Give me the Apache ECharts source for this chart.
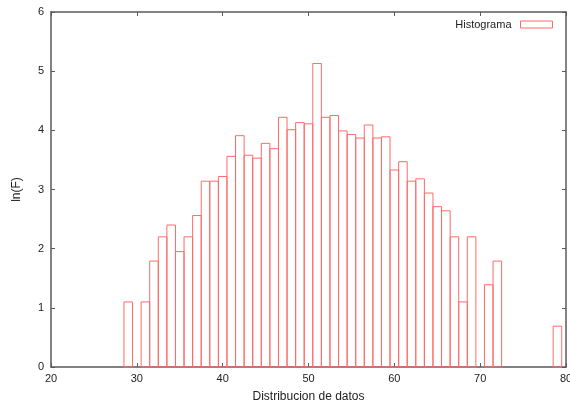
<!DOCTYPE html>
<html>
<head>
<meta charset="utf-8">
<script src="https://cdn.jsdelivr.net/npm/echarts@6/dist/echarts.min.js"></script>
<style>html,body{margin:0;padding:0;background:#fff}#c{width:570px;height:404px}</style>
</head>
<body>
<div id="c"></div>
<script>
// Bin centres (width 1) and ln(F) values
const binCenters = [29, 30, 31, 32, 33, 34, 35, 36, 37, 38, 39, 40, 41, 42, 43, 44, 45, 46, 47, 48, 49, 50,
  51, 52, 53, 54, 55, 56, 57, 58, 59, 60, 61, 62, 63, 64, 65, 66, 67, 68, 69, 70, 71, 72, 79];
const lnF = [1.10, 0, 1.10, 1.79, 2.20, 2.40, 1.95, 2.20, 2.56, 3.14, 3.14, 3.22, 3.56, 3.91, 3.58, 3.53, 3.78, 3.69, 4.22, 4.01, 4.13, 4.11,
  5.13, 4.22, 4.25, 3.99, 3.93, 3.87, 4.09, 3.87, 3.89, 3.33, 3.47, 3.14, 3.18, 2.94, 2.71, 2.64, 2.20, 1.10, 2.20, 0, 1.39, 1.79, 0.69];
const xTicks = [20, 30, 40, 50, 60, 70, 80];
const yTicks = [0, 1, 2, 3, 4, 5, 6];
const binWidth = 1;

const chart = echarts.init(document.getElementById('c'), null, {renderer: 'canvas'});
const barColor = '#ff6a6a';
const axisColor = '#5a5a5a';
const font = 'Liberation Sans, Arial, sans-serif';

const axisCommon = {
  axisLine: {show: true, onZero: false, lineStyle: {color: axisColor, width: 1.5}},
  axisTick: {show: true, inside: true, length: 4, lineStyle: {color: axisColor, width: 1}},
  splitLine: {show: false}
};

chart.setOption({
  animation: false,
  backgroundColor: '#fff',
  grid: {left: 51, right: 4, top: 12, bottom: 37, containLabel: false, outerBoundsMode: 'none'},
  legend: {
    right: 12, top: 14, align: 'right', itemWidth: 32, itemHeight: 7, itemGap: 9,
    textStyle: {fontFamily: font, fontSize: 11, color: '#222', padding: [0, 4, 0, 0]},
    itemStyle: {color: '#fff', borderColor: barColor, borderWidth: 1},
    data: [{name: 'Histograma', icon: 'rect', itemStyle: {color: '#fff', borderColor: barColor, borderWidth: 1}}]
  },
  xAxis: [
    Object.assign({}, axisCommon, {
      type: 'value', min: xTicks[0], max: xTicks[xTicks.length - 1], interval: 10, position: 'bottom',
      name: 'Distribucion de datos', nameLocation: 'middle', nameGap: 24,
      nameTextStyle: {fontFamily: font, fontSize: 12, color: '#222'},
      axisLabel: {fontFamily: font, fontSize: 11, color: '#222', margin: 6}
    }),
    Object.assign({}, axisCommon, {
      type: 'value', min: xTicks[0], max: xTicks[xTicks.length - 1], interval: 10, position: 'top',
      axisLabel: {show: false}
    })
  ],
  yAxis: [
    Object.assign({}, axisCommon, {
      type: 'value', min: yTicks[0], max: yTicks[yTicks.length - 1], interval: 1, position: 'left',
      name: 'ln(F)', nameLocation: 'middle', nameGap: 28,
      nameTextStyle: {fontFamily: font, fontSize: 12, color: '#222'},
      axisLabel: {fontFamily: font, fontSize: 11, color: '#222', margin: 7}
    }),
    Object.assign({}, axisCommon, {
      type: 'value', min: yTicks[0], max: yTicks[yTicks.length - 1], interval: 1, position: 'right',
      axisLabel: {show: false}
    })
  ],
  series: [{
    name: 'Histograma',
    type: 'custom',
    xAxisIndex: 0, yAxisIndex: 0,
    data: binCenters.map((c, i) => [c, lnF[i]]),
    renderItem: function (params, api) {
      const c = api.value(0), v = api.value(1);
      if (!(v > 0)) return null;
      const p0 = api.coord([c - binWidth / 2, v]);
      const p1 = api.coord([c + binWidth / 2, 0]);
      return {
        type: 'rect',
        shape: {x: p0[0], y: p0[1], width: p1[0] - p0[0], height: p1[1] - p0[1]},
        style: {fill: 'rgba(255,255,255,0)', stroke: barColor, lineWidth: 1}
      };
    },
    itemStyle: {color: '#fff', borderColor: barColor, borderWidth: 1}
  }]
});
</script>
</body>
</html>
